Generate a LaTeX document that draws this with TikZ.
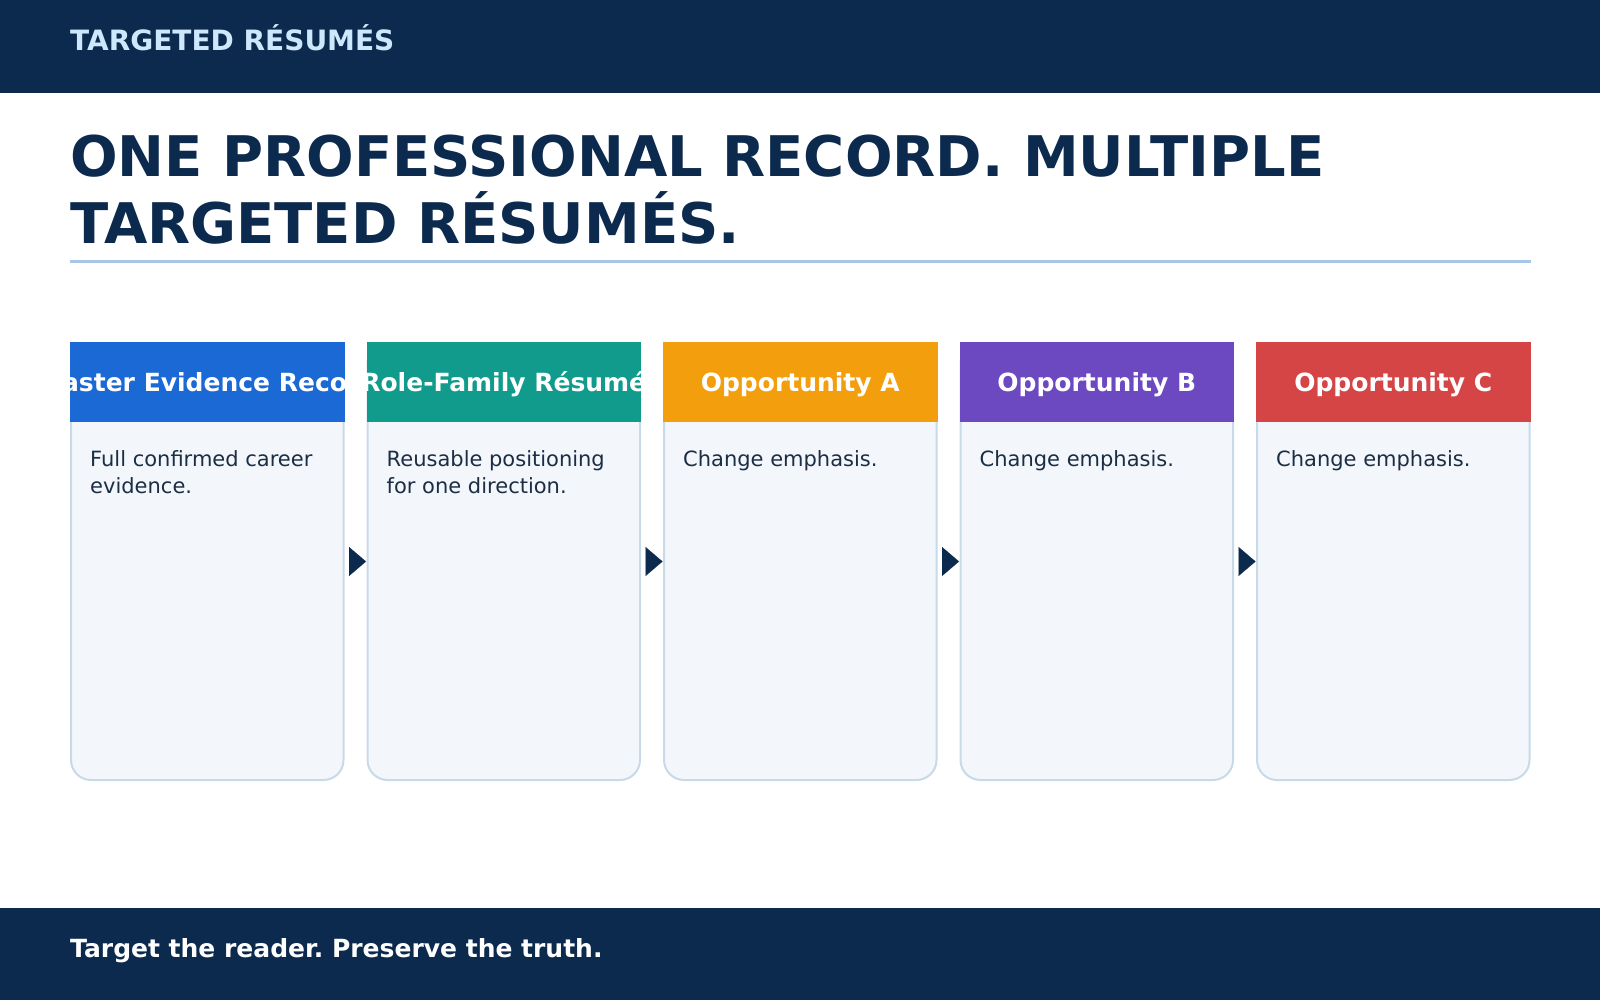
\documentclass[tikz,border=0pt]{standalone}
\usepackage{fontspec}
\setmainfont{DejaVu Sans}
\frenchspacing
\usetikzlibrary{positioning,arrows.meta}

\definecolor{navy}{HTML}{0B2A4E}
\definecolor{paleblue}{HTML}{CDE8FC}
\definecolor{rulecol}{HTML}{A8C7E6}
\definecolor{cardfill}{HTML}{F3F7FC}
\definecolor{cardline}{HTML}{C8D9E8}
\definecolor{bodytext}{HTML}{1C2E44}
\definecolor{hdrblue}{HTML}{1A69D4}
\definecolor{hdrteal}{HTML}{109B8D}
\definecolor{hdrorange}{HTML}{F39E0C}
\definecolor{hdrpurple}{HTML}{6C48C1}
\definecolor{hdrred}{HTML}{D64545}

\begin{document}
\begin{tikzpicture}[x=1pt,y=-1pt]
		% Styles for the cards and the arrows between them
		\tikzset{
			cardbody/.style={draw=cardline, line width=2pt, fill=cardfill, rounded corners=20pt, minimum width=272.5pt, minimum height=437pt, inner sep=0pt, outer sep=0pt},
			cardhead/.style={fill=#1, minimum width=274.5pt, minimum height=80pt, inner sep=0pt, outer sep=0pt, anchor=north west,
				path picture={\node[anchor=base, text=white, font=\fontsize{25}{29}\selectfont\bfseries] at ([yshift=-9pt]path picture bounding box.center) {\headtext};}},
			cardtext/.style={anchor=north west, inner sep=0pt, align=left, text=bodytext, font=\fontsize{21}{27.3}\selectfont},
			flow/.style={-{Triangle[length=17pt 0, width=29pt 0]}, navy, line width=0.1pt, shorten <=5.5pt, shorten >=1.5pt}
		}
		\useasboundingbox (0,0) rectangle (1600,1000);
		
		% Top and bottom bands
		\fill[navy] (0,0) rectangle (1600,93);
		\fill[navy] (0,908) rectangle (1600,1000);
		\node[anchor=base west, inner sep=0pt, text=paleblue, font=\fontsize{28}{32}\selectfont\bfseries] (kicker) at (70,50.5) {TARGETED RÉSUMÉS};
		\node[anchor=base west, inner sep=0pt, text=white, font=\fontsize{25}{29}\selectfont\bfseries] (footer) at (70,957) {Target the reader. Preserve the truth.};
		
		% Headline and rule
		\node[anchor=north west, inner sep=0pt, align=left, text=navy, font=\fontsize{56}{66.5}\selectfont\bfseries] (title) at (70,135) {ONE PROFESSIONAL RECORD. MULTIPLE\\TARGETED RÉSUMÉS.};
		\draw[rulecol, line width=3pt] (70,262) -- (1531,262);
		
		% Card bodies
		\node[cardbody, anchor=north west] (master) at (71,343) {};
		\node[cardbody, right=24pt of master] (family) {};
		\node[cardbody, right=24pt of family] (oppa) {};
		\node[cardbody, right=24pt of oppa] (oppb) {};
		\node[cardbody, right=24pt of oppb] (oppc) {};
		
		% Coloured headers (text is clipped to the band)
		\def\headtext{Master Evidence Record}
		\node[cardhead=hdrblue] (masterhead) at ([xshift=-1pt, yshift=1pt]master.north west) {};
		\def\headtext{Role-Family Résumé}
		\node[cardhead=hdrteal] (familyhead) at ([xshift=-1pt, yshift=1pt]family.north west) {};
		\def\headtext{Opportunity A}
		\node[cardhead=hdrorange] (oppahead) at ([xshift=-1pt, yshift=1pt]oppa.north west) {};
		\def\headtext{Opportunity B}
		\node[cardhead=hdrpurple] (oppbhead) at ([xshift=-1pt, yshift=1pt]oppb.north west) {};
		\def\headtext{Opportunity C}
		\node[cardhead=hdrred] (oppchead) at ([xshift=-1pt, yshift=1pt]oppc.north west) {};
		
		% Card texts
		\node[cardtext] (mastertext) at ([xshift=19pt, yshift=-107pt]master.north west) {Full confirmed career\\evidence.};
		\node[cardtext] (familytext) at ([xshift=19pt, yshift=-107pt]family.north west) {Reusable positioning\\for one direction.};
		\node[cardtext] (oppatext) at ([xshift=19pt, yshift=-107pt]oppa.north west) {Change emphasis.};
		\node[cardtext] (oppbtext) at ([xshift=19pt, yshift=-107pt]oppb.north west) {Change emphasis.};
		\node[cardtext] (oppctext) at ([xshift=19pt, yshift=-107pt]oppc.north west) {Change emphasis.};
		
		% Arrows between the cards
		\draw[flow] (master.east) -- (family.west);
		\draw[flow] (family.east) -- (oppa.west);
		\draw[flow] (oppa.east) -- (oppb.west);
		\draw[flow] (oppb.east) -- (oppc.west);
	\end{tikzpicture}
\end{document}
